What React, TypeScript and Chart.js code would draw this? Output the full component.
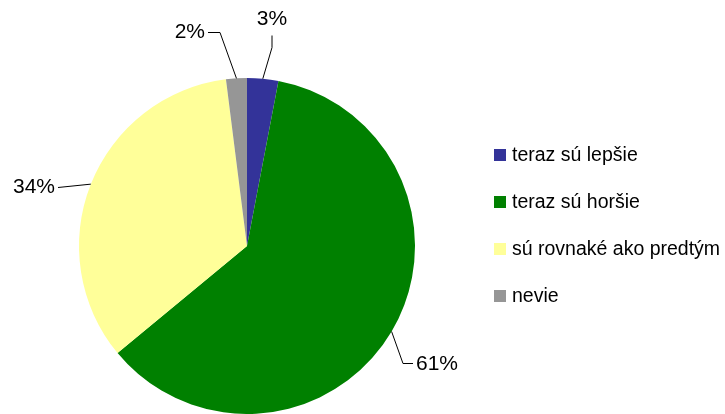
import React, { useEffect, useRef } from "react";
import { Chart, registerables } from "chart.js";

Chart.register(...registerables);

const categories = ["teraz sú lepšie", "teraz sú horšie", "sú rovnaké ako predtým", "nevie"];
const values = [3, 61, 34, 2];
const pctLabels = ["3%", "61%", "34%", "2%"];
const colors = ["#333399", "#008000", "#FFFF99", "#969696"];

const FONT = '"Liberation Sans", Arial, sans-serif';

// leader line elbows & label placement (style only)
const labelLayout = [
  { elbows: [[272, 47], [272, 35]], text: [272, 19], align: "center" },
  { elbows: [[403, 363], [413, 363]], text: [416, 364], align: "left" },
  { elbows: [[58, 187]], text: [55, 187], align: "right" },
  { elbows: [[220, 32], [208, 32]], text: [205, 32], align: "right" },
];

const overlayPlugin = {
  id: "overlay",
  afterDraw(chart: any) {
    const ctx = chart.ctx;
    const meta = chart.getDatasetMeta(0);
    ctx.save();
    meta.data.forEach((arc: any, i: number) => {
      const p = arc.getProps(["x", "y", "startAngle", "endAngle", "outerRadius"], true);
      const mid = (p.startAngle + p.endAngle) / 2;
      const ex = p.x + Math.cos(mid) * p.outerRadius;
      const ey = p.y + Math.sin(mid) * p.outerRadius;
      const L = labelLayout[i];
      ctx.beginPath();
      ctx.strokeStyle = "#000000";
      ctx.lineWidth = 1;
      ctx.moveTo(ex, ey);
      L.elbows.forEach((pt) => ctx.lineTo(pt[0], pt[1] + 0.5));
      ctx.stroke();
      ctx.fillStyle = "#000000";
      ctx.font = `21px ${FONT}`;
      ctx.textAlign = L.align as CanvasTextAlign;
      ctx.textBaseline = "middle";
      ctx.fillText(pctLabels[i], L.text[0], L.text[1]);
    });
    const lx = 494;
    const ly0 = 155;
    const step = 47;
    categories.forEach((c, i) => {
      const cy = ly0 + i * step;
      ctx.fillStyle = colors[i];
      ctx.fillRect(lx, cy - 6, 12, 12);
      ctx.fillStyle = "#000000";
      ctx.font = `19.5px ${FONT}`;
      ctx.textAlign = "left";
      ctx.textBaseline = "middle";
      ctx.fillText(c, 512, cy + 1);
    });
    ctx.restore();
  },
};

export default function App() {
  const ref = useRef<HTMLCanvasElement | null>(null);
  useEffect(() => {
    document.body.style.margin = "0";
    const canvas = ref.current!;
    const chart = new Chart(canvas, {
      type: "pie",
      data: {
        labels: categories,
        datasets: [
          {
            data: values,
            backgroundColor: colors,
            borderWidth: 0,
          },
        ],
      },
      options: {
        animation: false,
        responsive: false,
        layout: { padding: { top: 78, bottom: 0, left: 0, right: 231 } },
        plugins: {
          legend: { display: false },
          tooltip: { enabled: false },
        },
      } as any,
      plugins: [overlayPlugin],
    });
    return () => chart.destroy();
  }, []);
  return (
    <div style={{ position: "absolute", left: 0, top: 0, width: 725, height: 414, background: "#fff" }}>
      <canvas ref={ref} width={725} height={414} style={{ width: 725, height: 414, display: "block" }} />
    </div>
  );
}
